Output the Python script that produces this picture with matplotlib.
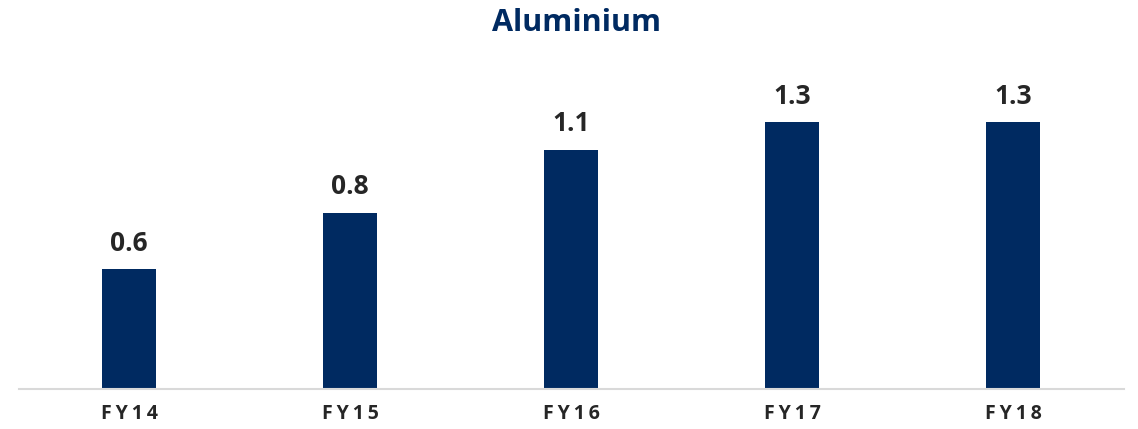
import matplotlib.pyplot as plt

years = ['FY14', 'FY15', 'FY16', 'FY17', 'FY18']
values = [0.57, 0.84, 1.14, 1.27, 1.27]
labels = ['0.6', '0.8', '1.1', '1.3', '1.3']

navy = '#002a61'
txt = '#262626'

fig = plt.figure(figsize=(11.38, 4.29), dpi=100)
ax = fig.add_axes([18.5 / 1138, 40 / 429, 1105 / 1138, 315 / 429])

x = range(len(years))
ax.bar(x, values, width=0.24, color=navy)
for i, v in enumerate(values):
    ax.text(i, v + 0.06, labels[i], ha='center', va='bottom', fontsize=19,
            fontweight='bold', color=txt, family=['Open Sans', 'DejaVu Sans'])

ax.set_xlim(-0.5, 4.5)
ax.set_ylim(0, 1.5)
ax.set_xticks(list(x))
# spread the letters a bit like the original
ax.set_xticklabels(['\u2009'.join(y) for y in years], fontsize=14, fontweight='bold',
                   color=txt, family=['Open Sans', 'DejaVu Sans'])
ax.tick_params(axis='x', length=0, pad=11)
ax.set_yticks([])
for s in ['top', 'right', 'left']:
    ax.spines[s].set_visible(False)
ax.spines['bottom'].set_color('#d9d9d9')
ax.spines['bottom'].set_linewidth(1.5)

fig.text(576 / 1138, 1 - 23 / 429, 'Aluminium', ha='center', va='center', fontsize=22,
         fontweight='bold', color=navy, family='Open Sans')

plt.savefig('out.png', dpi=100)
